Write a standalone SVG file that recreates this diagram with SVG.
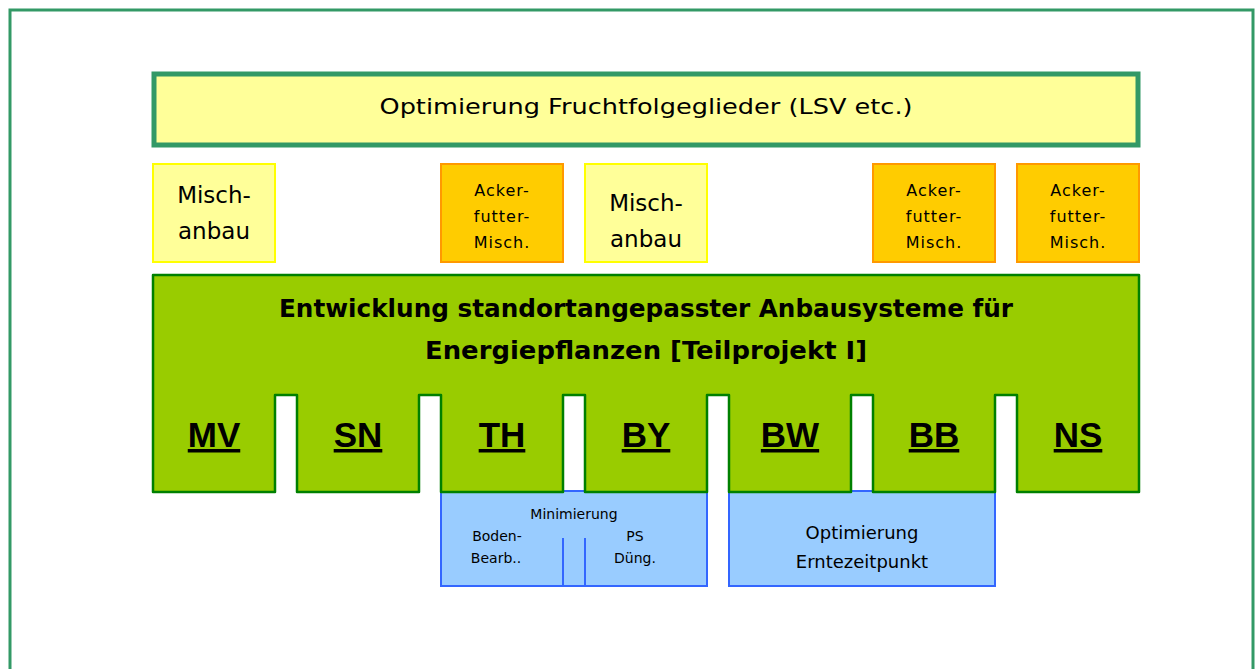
<svg xmlns="http://www.w3.org/2000/svg" width="1258" height="669" viewBox="0 0 1258 669">
<style>
.t{font-family:"DejaVu Sans","Liberation Sans",sans-serif;fill:#000;text-anchor:middle}
.a{font-size:16px;letter-spacing:1px}
.m{font-size:23px}
.mix{fill:#ffff99;stroke:#ffff00;stroke-width:2}
.ack{fill:#ffcc00;stroke:#ff9900;stroke-width:2}
.blue{fill:#99ccff;stroke:#3366ff;stroke-width:2}
.st{font-family:"Liberation Sans",Arial,sans-serif;font-weight:bold;font-size:35px;text-anchor:middle;text-decoration:underline;fill:#000}
</style>
<rect width="1258" height="669" fill="#fff"/>
<rect x="10" y="10" width="1243" height="700" fill="none" stroke="#339966" stroke-width="3"/>
<g id="top">
<rect x="154" y="74" width="984" height="71" fill="#ffff99" stroke="#339966" stroke-width="5"/>
<text class="t" x="646" y="114" font-size="22" textLength="533" lengthAdjust="spacingAndGlyphs">Optimierung Fruchtfolgeglieder (LSV etc.)</text>
</g>
<g id="misch1"><rect class="mix" x="153" y="164" width="122" height="98"/>
<text class="t m" x="214" y="203">Misch-</text><text class="t m" x="214" y="239">anbau</text></g>
<g id="acker1"><rect class="ack" x="441" y="164" width="122" height="98"/>
<text class="t a" x="502" y="196">Acker-</text><text class="t a" x="502" y="222">futter-</text><text class="t a" x="502" y="248">Misch.</text></g>
<g id="misch2"><rect class="mix" x="585" y="164" width="122" height="98"/>
<text class="t m" x="646" y="211">Misch-</text><text class="t m" x="646" y="247">anbau</text></g>
<g id="acker2"><rect class="ack" x="873" y="164" width="122" height="98"/>
<text class="t a" x="934" y="196">Acker-</text><text class="t a" x="934" y="222">futter-</text><text class="t a" x="934" y="248">Misch.</text></g>
<g id="acker3"><rect class="ack" x="1017" y="164" width="122" height="98"/>
<text class="t a" x="1078" y="196">Acker-</text><text class="t a" x="1078" y="222">futter-</text><text class="t a" x="1078" y="248">Misch.</text></g>
<g id="minimierung"><rect class="blue" x="441" y="491" width="266" height="95"/>
<line x1="563" y1="538" x2="563" y2="586" stroke="#3366ff" stroke-width="2"/>
<line x1="585" y1="538" x2="585" y2="586" stroke="#3366ff" stroke-width="2"/>
<text class="t" x="574" y="519" font-size="14">Minimierung</text>
<text class="t" x="497" y="541" font-size="14">Boden-</text><text class="t" x="496" y="563" font-size="14">Bearb..</text>
<text class="t" x="635" y="541" font-size="14">PS</text><text class="t" x="635" y="563" font-size="14">Düng.</text></g>
<g id="ernte"><rect class="blue" x="729" y="491" width="266" height="95"/>
<text class="t" x="862" y="539" font-size="18">Optimierung</text><text class="t" x="862" y="568" font-size="18">Erntezeitpunkt</text></g>
<g id="main">
<path d="M153,275 H1139 V492 H1017 V395 H995 V492 H873 V395 H851 V492 H729 V395 H707 V492 H585 V395 H563 V492 H441 V395 H419 V492 H297 V395 H275 V492 H153 Z" fill="#99cc00" stroke="#008000" stroke-width="2.5" stroke-linejoin="round"/>
<text class="t" x="646" y="317" font-size="25" font-weight="bold" textLength="734" lengthAdjust="spacingAndGlyphs">Entwicklung standortangepasster Anbausysteme für</text>
<text class="t" x="646" y="359" font-size="25" font-weight="bold" textLength="442" lengthAdjust="spacingAndGlyphs">Energiepflanzen [Teilprojekt I]</text>
<text class="st" x="214" y="447">MV</text>
<text class="st" x="358" y="447">SN</text>
<text class="st" x="502" y="447">TH</text>
<text class="st" x="646" y="447">BY</text>
<text class="st" x="790" y="447">BW</text>
<text class="st" x="934" y="447">BB</text>
<text class="st" x="1078" y="447">NS</text>
</g>
<g id="connectors"/>
</svg>
